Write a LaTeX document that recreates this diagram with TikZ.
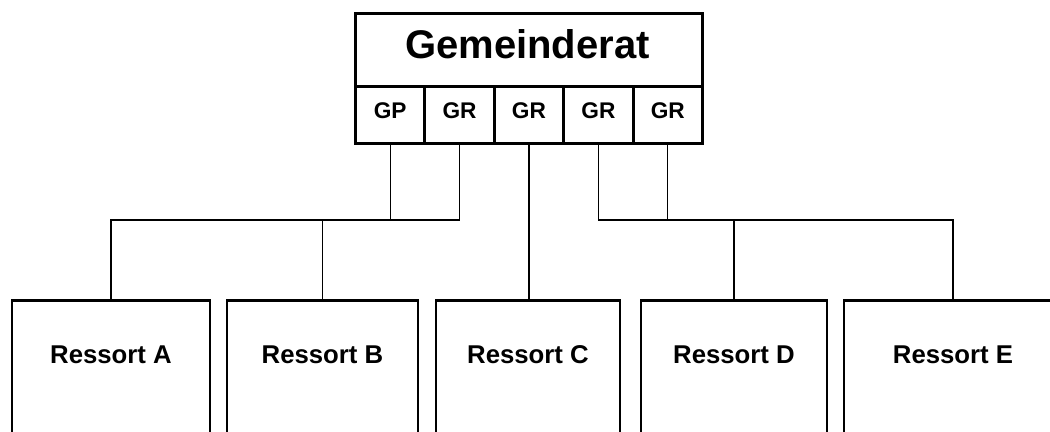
\documentclass[tikz,border=0pt]{standalone}
\usepackage{fontspec}
\setmainfont{Liberation Sans}
\begin{document}
\begin{tikzpicture}[x=0.75pt,y=-0.75pt,
  box/.style={draw, line width=2.2pt, rectangle, inner sep=0pt},
  topbox/.style={box, minimum width=260.25pt, minimum height=54.75pt, anchor=north west},
  sbox/.style={box, minimum width=52.05pt, minimum height=42.75pt, anchor=north west},
  rbox/.style={box, minimum height=124pt, anchor=north},
  conn/.style={draw, line width=1pt},
  bigtxt/.style={font=\fontsize{30}{30}\selectfont\bfseries, inner sep=0pt, anchor=base},
  smalltxt/.style={font=\fontsize{17}{17}\selectfont\bfseries, inner sep=0pt, anchor=base},
  rtxt/.style={font=\fontsize{19.3}{19.3}\selectfont\bfseries, inner sep=0pt, anchor=base}]
\useasboundingbox (0,0) rectangle (1050,432);
\clip (0,0) rectangle (1050,432);
% top
\node[topbox] (gr) at (354,12) {};
\node[bigtxt] (grt) at (527.5,58) {Gemeinderat};
\node[sbox] (s1) at (354,85) {};
\node[sbox] (s2) at (423.4,85) {};
\node[sbox] (s3) at (492.8,85) {};
\node[sbox] (s4) at (562.2,85) {};
\node[sbox] (s5) at (631.6,85) {};
\node[smalltxt] (t1) at (s1.center |- 0,118) {GP};
\node[smalltxt] (t2) at (s2.center |- 0,118) {GR};
\node[smalltxt] (t3) at (s3.center |- 0,118) {GR};
\node[smalltxt] (t4) at (s4.center |- 0,118) {GR};
\node[smalltxt] (t5) at (s5.center |- 0,118) {GR};
% bottom boxes
\node[rbox, minimum width=148.5pt] (A) at (111,299) {};
\node[rbox, minimum width=143.25pt] (B) at (322.5,299) {};
\node[rbox, minimum width=138pt] (C) at (528,299) {};
\node[rbox, minimum width=139.5pt] (D) at (734,299) {};
\node[rbox, minimum width=163.5pt] (E) at (953,299) {};
\node[rtxt] (At) at (A.north |- 0,363) {Ressort A};
\node[rtxt] (Bt) at (B.north |- 0,363) {Ressort B};
\node[rtxt] (Ct) at (C.north |- 0,363) {Ressort C};
\node[rtxt] (Dt) at (D.north |- 0,363) {Ressort D};
\node[rtxt] (Et) at (E.north |- 0,363) {Ressort E};
% connectors
\coordinate (j) at (0,220);
\draw[conn] (s1.south) -- (s1.south |- j) -- (s2.south |- j) -- (s2.south);
\draw[conn] (A.north) -- (A.north |- j) -- (s1.south |- j);
\draw[conn] (B.north) -- (B.north |- j);
\draw[conn] (s3.south) -- (s3.south |- C.north);
\draw[conn] (s4.south) -- (s4.south |- j) -- (s5.south |- j) -- (s5.south);
\draw[conn] (s5.south |- j) -- (E.north |- j) -- (E.north);
\draw[conn] (D.north) -- (D.north |- j);
\end{tikzpicture}
\end{document}
